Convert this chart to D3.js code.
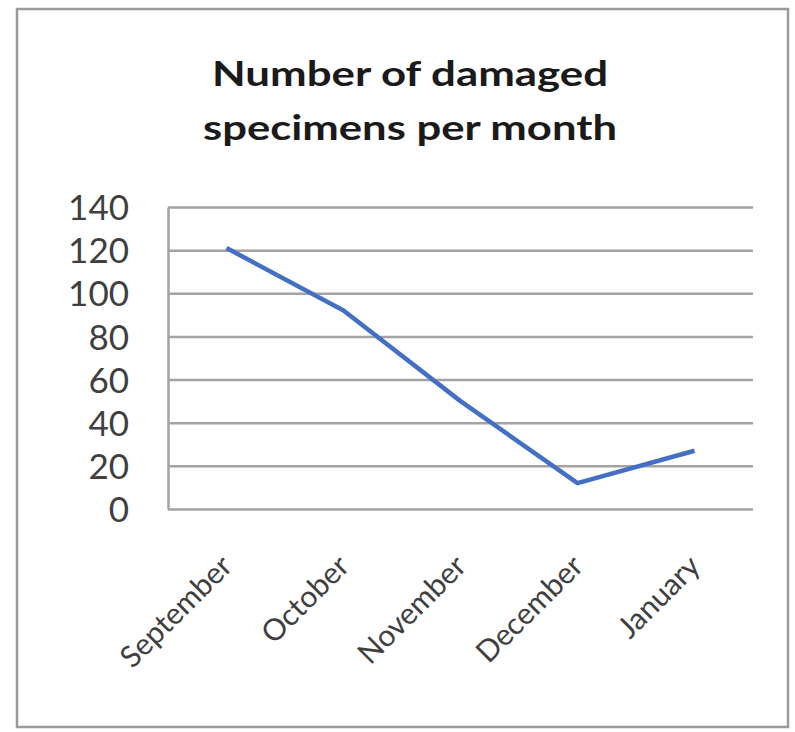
<!DOCTYPE html>
<html>
<head>
<meta charset="utf-8">
<script src="https://cdn.jsdelivr.net/npm/d3@7"></script>
<style>
  html, body { margin: 0; padding: 0; background: #fff; }
  svg { display: block; }
</style>
</head>
<body>
<svg id="chart" width="795" height="732"></svg>
<script>
const titleLines = ["Number of damaged", "specimens per month"];
const months = ["September", "October", "November", "December", "January"];
const damaged = [121, 92, 50, 12, 27];
const yTicks = [0, 20, 40, 60, 80, 100, 120, 140];

const svg = d3.select("#chart");
const W = 795, H = 732;
const plot = { left: 168, right: 753, top: 207, bottom: 509 };
const font = "Lato, 'Open Sans', 'DejaVu Sans', sans-serif";
const textColor = "#3f3f3f";
const gridColor = "#a3a3a3";

svg.append("rect").attr("width", W).attr("height", H).attr("fill", "#fff");
svg.append("rect")
  .attr("x", 17).attr("y", 9).attr("width", 771).attr("height", 718)
  .attr("fill", "none").attr("stroke", "#9a9a9a").attr("stroke-width", 2.5);

const x = d3.scalePoint().domain(months).range([plot.left, plot.right]).padding(0.5);
const y = d3.scaleLinear().domain([0, 140]).range([plot.bottom, plot.top]);

// gridlines via axis
const grid = svg.append("g")
  .attr("transform", `translate(${plot.left},0)`)
  .call(d3.axisRight(y).tickValues(yTicks).tickSize(plot.right - plot.left).tickFormat(""));
grid.select(".domain").remove();
grid.selectAll(".tick line").attr("stroke", gridColor).attr("stroke-width", 2.5);

// y axis labels
const yAxis = svg.append("g")
  .attr("transform", `translate(${plot.left},0)`)
  .call(d3.axisLeft(y).tickValues(yTicks).tickSize(0).tickPadding(39).tickFormat(d3.format("d")));
yAxis.select(".domain").attr("stroke", gridColor).attr("stroke-width", 2.5);
yAxis.selectAll(".tick text")
  .attr("font-family", font).attr("font-size", 35).attr("fill", textColor)
  .attr("dy", "0.36em");

// x axis labels
const xAxis = svg.append("g")
  .attr("transform", `translate(0,${plot.bottom})`)
  .call(d3.axisBottom(x).tickSize(0).tickFormat(d => d));
xAxis.select(".domain").remove();
xAxis.selectAll(".tick text")
  .attr("font-family", font).attr("font-size", 30).attr("fill", textColor)
  .attr("text-anchor", "end")
  .attr("y", 0).attr("dy", 0)
  .attr("transform", "translate(7,59) rotate(-45)");

// line
const line = d3.line().x((d, i) => x(months[i])).y(d => y(d));
svg.append("path")
  .datum(damaged)
  .attr("d", line)
  .attr("fill", "none")
  .attr("stroke", "#4470c4")
  .attr("stroke-width", 4.5)
  .attr("stroke-linejoin", "round")
  .attr("stroke-linecap", "butt");

// title
const titleWidths = [396, 414];
const titleBase = [86, 140];
titleLines.forEach((t, i) => {
  svg.append("text")
    .attr("x", 410).attr("y", titleBase[i])
    .attr("text-anchor", "middle")
    .attr("font-family", font).attr("font-weight", "bold").attr("font-size", 35)
    .attr("fill", "#1a1a1a")
    .attr("textLength", titleWidths[i]).attr("lengthAdjust", "spacingAndGlyphs")
    .text(t);
});
</script>
</body>
</html>
